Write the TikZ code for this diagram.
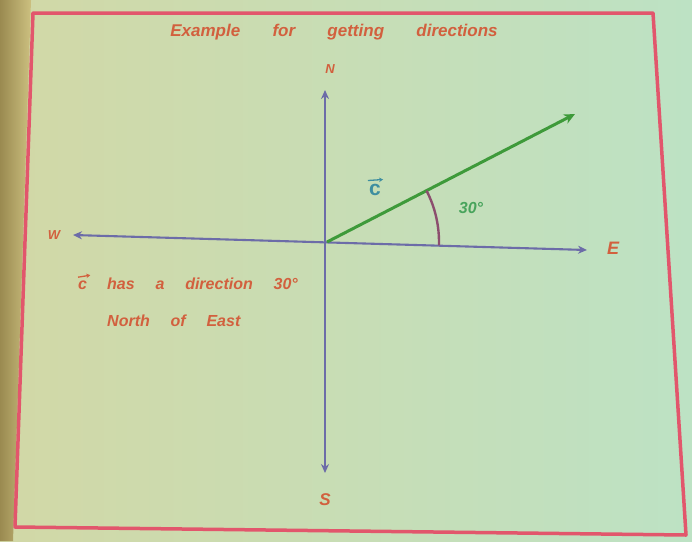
\documentclass[tikz,border=0pt]{standalone}
\usepackage{fontspec}
\setmainfont{Liberation Sans}
\usetikzlibrary{arrows.meta}
\definecolor{bgA}{HTML}{D2D8A6}
\definecolor{bgB}{HTML}{BDE2C4}
\definecolor{stripA}{HTML}{9A8A50}
\definecolor{stripB}{HTML}{CCC080}
\definecolor{bordc}{HTML}{E2566C}
\definecolor{ink}{HTML}{D2603E}
\definecolor{axisc}{HTML}{6C6CA8}
\definecolor{vecc}{HTML}{3E9A3A}
\definecolor{arcc}{HTML}{8C4E6E}
\definecolor{labc}{HTML}{3E8EA0}
\definecolor{angc}{HTML}{48A45C}
\begin{document}
\begin{tikzpicture}[x=1pt,y=-1pt,
  hand/.style={text=ink, font=\bfseries\itshape\fontsize{16}{19}\selectfont, inner sep=0pt},
  axisline/.style={draw=axisc, line width=2.1pt, {Stealth[length=9pt,width=8pt]}-{Stealth[length=9pt,width=8pt]}},
  vecline/.style={draw=vecc, line width=3pt, -{Stealth[length=11pt,width=10pt]}},
  arcline/.style={draw=arcc, line width=2.4pt},
  accent/.style={line width=1.3pt, -{Stealth[length=4pt,width=4.5pt]}},
  frame/.style={draw=bordc, line width=3.5pt, line join=round}]
\useasboundingbox (0,0) rectangle (692,541);
% background
\shade[left color=bgA, right color=bgB] (0,0) rectangle (692,541);
\shade[left color=stripA, right color=stripB] (0,0) -- (31,0) -- (13,541) -- (0,541) -- cycle;
% frame
\draw[frame] (33,13) -- (653,13) -- (686,535) -- (15,527) -- cycle;
% coordinates
\coordinate (O) at (327,242);
\coordinate (Ntip) at (325,90);
\coordinate (Stip) at (325,473);
\coordinate (Wtip) at (73,235);
\coordinate (Etip) at (587,250);
\coordinate (Ctip) at (575,114);
% title
\node[hand, font=\bfseries\itshape\fontsize{17}{20}\selectfont] (title) at (334,32)
  {Example\hspace{1.9em}for\hspace{1.9em}getting\hspace{1.9em}directions};
% axes
\draw[axisline] (Wtip) -- (Etip);
\draw[axisline] (Ntip) -- (Stip);
% compass labels
\node[hand, font=\bfseries\itshape\fontsize{13}{15}\selectfont] (N) at (330,69) {N};
\node[hand, font=\bfseries\itshape\fontsize{17}{20}\selectfont] (S) at (325,500) {S};
\node[hand, font=\bfseries\itshape\fontsize{13}{15}\selectfont] (W) at (54,235) {W};
\node[hand, font=\bfseries\itshape\fontsize{18}{20}\selectfont] (E) at (613,248) {E};
% vector
\draw[vecline] (O) -- (Ctip);
\draw[arcline] ([shift={(-27.3:112)}]O) arc[start angle=-27.3, end angle=1.7, radius=112];
\node[text=labc, font=\bfseries\fontsize{21}{24}\selectfont, inner sep=0pt, anchor=base] (clab) at (375,195) {c};
\draw[accent, draw=labc] ([xshift=-1pt,yshift=3pt]clab.north west) -- ([xshift=2pt,yshift=4pt]clab.north east);
\node[text=angc, font=\bfseries\itshape\fontsize{16}{19}\selectfont, inner sep=0pt] (ang) at (471,208) {30°};
% description
\node[hand, anchor=base west] (dc) at (78,289) {c};
\draw[accent, draw=ink] ([yshift=3pt]dc.north west) -- ([xshift=3pt,yshift=5pt]dc.north east);
\node[hand, anchor=base west] (d1) at (107,289)
  {has\hspace{1.3em}a\hspace{1.3em}direction\hspace{1.3em}30°};
\node[hand, anchor=west] (d2) at (107,321)
  {North\hspace{1.3em}of\hspace{1.3em}East};
\end{tikzpicture}
\end{document}
